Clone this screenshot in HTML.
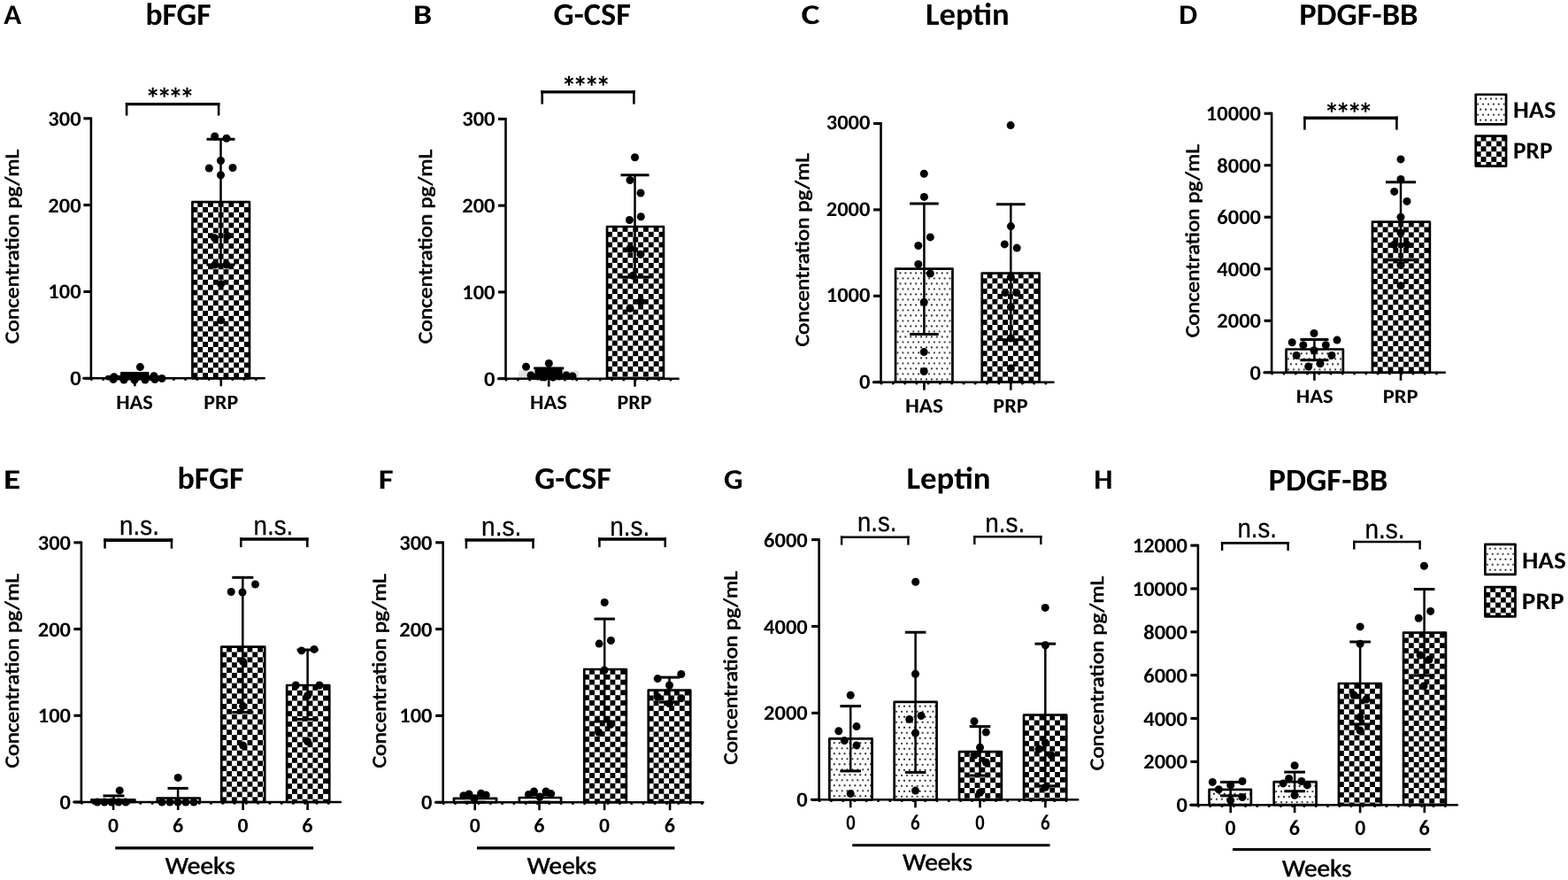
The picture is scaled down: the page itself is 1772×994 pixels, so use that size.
<!DOCTYPE html>
<html><head><meta charset="utf-8"><style>
html,body{margin:0;padding:0;background:#fff;}
svg{display:block;font-family:"Carlito","Liberation Sans",sans-serif;text-rendering:geometricPrecision;}
</style></head><body>
<svg width="1772" height="994" viewBox="0 0 1772 994">
<defs>
<pattern id="p1" patternUnits="userSpaceOnUse" x="217.45" y="228.15" width="11.7" height="11.7"><rect width="11.7" height="11.7" fill="#fff"/><rect x="5.85" y="0" width="5.85" height="5.85" fill="#000"/><rect x="0" y="5.85" width="5.85" height="5.85" fill="#000"/></pattern>
<pattern id="p2" patternUnits="userSpaceOnUse" x="123.30" y="429.75" width="5.9" height="12.0"><circle cx="2.95" cy="0.9" r="1.0" fill="#000"/><circle cx="0" cy="6.9" r="1.0" fill="#000"/><circle cx="5.9" cy="6.9" r="1.0" fill="#000"/></pattern>
<pattern id="p3" patternUnits="userSpaceOnUse" x="686.05" y="255.99" width="11.7" height="11.7"><rect width="11.7" height="11.7" fill="#fff"/><rect x="5.85" y="0" width="5.85" height="5.85" fill="#000"/><rect x="0" y="5.85" width="5.85" height="5.85" fill="#000"/></pattern>
<pattern id="p5" patternUnits="userSpaceOnUse" x="1014.50" y="307.45" width="5.9" height="12.0"><circle cx="2.95" cy="0.9" r="1.0" fill="#000"/><circle cx="0" cy="6.9" r="1.0" fill="#000"/><circle cx="5.9" cy="6.9" r="1.0" fill="#000"/></pattern>
<pattern id="p6" patternUnits="userSpaceOnUse" x="1109.75" y="308.55" width="11.7" height="11.7"><rect width="11.7" height="11.7" fill="#fff"/><rect x="5.85" y="0" width="5.85" height="5.85" fill="#000"/><rect x="0" y="5.85" width="5.85" height="5.85" fill="#000"/></pattern>
<pattern id="p7" patternUnits="userSpaceOnUse" x="1456.00" y="398.39" width="5.9" height="12.0"><circle cx="2.95" cy="0.9" r="1.0" fill="#000"/><circle cx="0" cy="6.9" r="1.0" fill="#000"/><circle cx="5.9" cy="6.9" r="1.0" fill="#000"/></pattern>
<pattern id="p8" patternUnits="userSpaceOnUse" x="1550.95" y="250.69" width="11.7" height="11.7"><rect width="11.7" height="11.7" fill="#fff"/><rect x="5.85" y="0" width="5.85" height="5.85" fill="#000"/><rect x="0" y="5.85" width="5.85" height="5.85" fill="#000"/></pattern>
<pattern id="p10" patternUnits="userSpaceOnUse" x="1670.20" y="110.65" width="5.9" height="12.0"><circle cx="2.95" cy="0.9" r="1.0" fill="#000"/><circle cx="0" cy="6.9" r="1.0" fill="#000"/><circle cx="5.9" cy="6.9" r="1.0" fill="#000"/></pattern>
<pattern id="p12" patternUnits="userSpaceOnUse" x="1667.75" y="153.65" width="11.7" height="11.7"><rect width="11.7" height="11.7" fill="#fff"/><rect x="5.85" y="0" width="5.85" height="5.85" fill="#000"/><rect x="0" y="5.85" width="5.85" height="5.85" fill="#000"/></pattern>
<pattern id="p13" patternUnits="userSpaceOnUse" x="105.90" y="907.19" width="5.9" height="12.0"><circle cx="2.95" cy="0.9" r="1.0" fill="#000"/><circle cx="0" cy="6.9" r="1.0" fill="#000"/><circle cx="5.9" cy="6.9" r="1.0" fill="#000"/></pattern>
<pattern id="p14" patternUnits="userSpaceOnUse" x="180.20" y="905.39" width="5.9" height="12.0"><circle cx="2.95" cy="0.9" r="1.0" fill="#000"/><circle cx="0" cy="6.9" r="1.0" fill="#000"/><circle cx="5.9" cy="6.9" r="1.0" fill="#000"/></pattern>
<pattern id="p15" patternUnits="userSpaceOnUse" x="250.25" y="730.69" width="11.7" height="11.7"><rect width="11.7" height="11.7" fill="#fff"/><rect x="5.85" y="0" width="5.85" height="5.85" fill="#000"/><rect x="0" y="5.85" width="5.85" height="5.85" fill="#000"/></pattern>
<pattern id="p16" patternUnits="userSpaceOnUse" x="324.15" y="773.99" width="11.7" height="11.7"><rect width="11.7" height="11.7" fill="#fff"/><rect x="5.85" y="0" width="5.85" height="5.85" fill="#000"/><rect x="0" y="5.85" width="5.85" height="5.85" fill="#000"/></pattern>
<pattern id="p17" patternUnits="userSpaceOnUse" x="515.40" y="905.79" width="5.9" height="12.0"><circle cx="2.95" cy="0.9" r="1.0" fill="#000"/><circle cx="0" cy="6.9" r="1.0" fill="#000"/><circle cx="5.9" cy="6.9" r="1.0" fill="#000"/></pattern>
<pattern id="p18" patternUnits="userSpaceOnUse" x="589.30" y="904.89" width="5.9" height="12.0"><circle cx="2.95" cy="0.9" r="1.0" fill="#000"/><circle cx="0" cy="6.9" r="1.0" fill="#000"/><circle cx="5.9" cy="6.9" r="1.0" fill="#000"/></pattern>
<pattern id="p19" patternUnits="userSpaceOnUse" x="660.25" y="755.99" width="11.7" height="11.7"><rect width="11.7" height="11.7" fill="#fff"/><rect x="5.85" y="0" width="5.85" height="5.85" fill="#000"/><rect x="0" y="5.85" width="5.85" height="5.85" fill="#000"/></pattern>
<pattern id="p20" patternUnits="userSpaceOnUse" x="732.75" y="779.69" width="11.7" height="11.7"><rect width="11.7" height="11.7" fill="#fff"/><rect x="5.85" y="0" width="5.85" height="5.85" fill="#000"/><rect x="0" y="5.85" width="5.85" height="5.85" fill="#000"/></pattern>
<pattern id="p21" patternUnits="userSpaceOnUse" x="939.80" y="838.29" width="5.9" height="12.0"><circle cx="2.95" cy="0.9" r="1.0" fill="#000"/><circle cx="0" cy="6.9" r="1.0" fill="#000"/><circle cx="5.9" cy="6.9" r="1.0" fill="#000"/></pattern>
<pattern id="p22" patternUnits="userSpaceOnUse" x="1013.10" y="796.79" width="5.9" height="12.0"><circle cx="2.95" cy="0.9" r="1.0" fill="#000"/><circle cx="0" cy="6.9" r="1.0" fill="#000"/><circle cx="5.9" cy="6.9" r="1.0" fill="#000"/></pattern>
<pattern id="p23" patternUnits="userSpaceOnUse" x="1084.05" y="849.09" width="11.7" height="11.7"><rect width="11.7" height="11.7" fill="#fff"/><rect x="5.85" y="0" width="5.85" height="5.85" fill="#000"/><rect x="0" y="5.85" width="5.85" height="5.85" fill="#000"/></pattern>
<pattern id="p24" patternUnits="userSpaceOnUse" x="1157.05" y="807.69" width="11.7" height="11.7"><rect width="11.7" height="11.7" fill="#fff"/><rect x="5.85" y="0" width="5.85" height="5.85" fill="#000"/><rect x="0" y="5.85" width="5.85" height="5.85" fill="#000"/></pattern>
<pattern id="p25" patternUnits="userSpaceOnUse" x="1369.00" y="895.69" width="5.9" height="12.0"><circle cx="2.95" cy="0.9" r="1.0" fill="#000"/><circle cx="0" cy="6.9" r="1.0" fill="#000"/><circle cx="5.9" cy="6.9" r="1.0" fill="#000"/></pattern>
<pattern id="p26" patternUnits="userSpaceOnUse" x="1442.10" y="887.09" width="5.9" height="12.0"><circle cx="2.95" cy="0.9" r="1.0" fill="#000"/><circle cx="0" cy="6.9" r="1.0" fill="#000"/><circle cx="5.9" cy="6.9" r="1.0" fill="#000"/></pattern>
<pattern id="p27" patternUnits="userSpaceOnUse" x="1512.95" y="771.99" width="11.7" height="11.7"><rect width="11.7" height="11.7" fill="#fff"/><rect x="5.85" y="0" width="5.85" height="5.85" fill="#000"/><rect x="0" y="5.85" width="5.85" height="5.85" fill="#000"/></pattern>
<pattern id="p28" patternUnits="userSpaceOnUse" x="1586.05" y="714.59" width="11.7" height="11.7"><rect width="11.7" height="11.7" fill="#fff"/><rect x="5.85" y="0" width="5.85" height="5.85" fill="#000"/><rect x="0" y="5.85" width="5.85" height="5.85" fill="#000"/></pattern>
<pattern id="p30" patternUnits="userSpaceOnUse" x="1680.80" y="618.75" width="5.9" height="12.0"><circle cx="2.95" cy="0.9" r="1.0" fill="#000"/><circle cx="0" cy="6.9" r="1.0" fill="#000"/><circle cx="5.9" cy="6.9" r="1.0" fill="#000"/></pattern>
<pattern id="p32" patternUnits="userSpaceOnUse" x="1678.35" y="663.05" width="11.7" height="11.7"><rect width="11.7" height="11.7" fill="#fff"/><rect x="5.85" y="0" width="5.85" height="5.85" fill="#000"/><rect x="0" y="5.85" width="5.85" height="5.85" fill="#000"/></pattern>
</defs>
<rect width="1772" height="994" fill="#fff"/>
<text x="4.20" y="26.80" font-size="31.8" font-weight="bold" textLength="19.93" lengthAdjust="spacingAndGlyphs">A</text>
<text x="164.47" y="28.00" font-size="35.2" font-weight="bold" textLength="74.10" lengthAdjust="spacingAndGlyphs">bFGF</text>
<text transform="translate(20.90,388.26) rotate(-90)" x="0" y="0" font-size="22.3" font-weight="normal" textLength="219.51" lengthAdjust="spacingAndGlyphs" stroke="#000" stroke-width="0.65" stroke-linejoin="round">Concentration pg/mL</text>
<line x1="102.90" y1="132.40" x2="102.90" y2="427.30" stroke="#000" stroke-width="2.6" stroke-linecap="butt"/>
<line x1="94.40" y1="133.80" x2="102.90" y2="133.80" stroke="#000" stroke-width="3.1" stroke-linecap="butt"/>
<text x="54.35" y="141.80" font-size="23.8" font-weight="bold" textLength="37.26" lengthAdjust="spacingAndGlyphs">300</text>
<line x1="94.40" y1="231.63" x2="102.90" y2="231.63" stroke="#000" stroke-width="3.1" stroke-linecap="butt"/>
<text x="54.35" y="239.63" font-size="23.8" font-weight="bold" textLength="37.26" lengthAdjust="spacingAndGlyphs">200</text>
<line x1="94.40" y1="329.47" x2="102.90" y2="329.47" stroke="#000" stroke-width="3.1" stroke-linecap="butt"/>
<text x="54.35" y="337.47" font-size="23.8" font-weight="bold" textLength="37.26" lengthAdjust="spacingAndGlyphs">100</text>
<line x1="94.40" y1="427.30" x2="102.90" y2="427.30" stroke="#000" stroke-width="3.1" stroke-linecap="butt"/>
<text x="79.22" y="435.30" font-size="23.8" font-weight="bold" textLength="12.42" lengthAdjust="spacingAndGlyphs">0</text>
<rect x="217.45" y="228.15" width="64.50" height="199.15" fill="url(#p1)" stroke="#000" stroke-width="2.7" stroke-linejoin="round"/>
<rect x="120.85" y="425.85" width="63.30" height="1.45" fill="url(#p2)" stroke="#000" stroke-width="2.7" stroke-linejoin="round"/>
<line x1="249.50" y1="157.20" x2="249.50" y2="299.00" stroke="#000" stroke-width="2.5" stroke-linecap="butt"/>
<line x1="233.50" y1="157.20" x2="265.50" y2="157.20" stroke="#000" stroke-width="3.0" stroke-linecap="butt"/>
<line x1="233.50" y1="299.00" x2="265.50" y2="299.00" stroke="#000" stroke-width="3.0" stroke-linecap="butt"/>
<line x1="152.30" y1="421.40" x2="152.30" y2="427.30" stroke="#000" stroke-width="2.5" stroke-linecap="butt"/>
<line x1="136.30" y1="421.40" x2="168.30" y2="421.40" stroke="#000" stroke-width="3.0" stroke-linecap="butt"/>
<line x1="136.30" y1="427.30" x2="168.30" y2="427.30" stroke="#000" stroke-width="3.0" stroke-linecap="butt"/>
<circle cx="242.7" cy="154.0" r="4.5"/>
<circle cx="256.0" cy="156.3" r="4.5"/>
<circle cx="249.5" cy="181.5" r="4.5"/>
<circle cx="236.3" cy="190.0" r="4.5"/>
<circle cx="263.0" cy="189.5" r="4.5"/>
<circle cx="249.5" cy="197.8" r="4.5"/>
<circle cx="242.5" cy="268.8" r="4.5"/>
<circle cx="257.0" cy="266.4" r="4.5"/>
<circle cx="249.7" cy="320.7" r="4.5"/>
<circle cx="249.7" cy="361.8" r="4.5"/>
<circle cx="243.0" cy="299.0" r="4.5"/>
<circle cx="256.0" cy="299.0" r="4.5"/>
<circle cx="158.4" cy="414.6" r="4.5"/>
<circle cx="128.9" cy="425.8" r="4.5"/>
<circle cx="174.0" cy="424.7" r="4.5"/>
<circle cx="183.0" cy="427.5" r="4.5"/>
<circle cx="128.0" cy="428.5" r="4.5"/>
<circle cx="140.0" cy="429.0" r="4.5"/>
<circle cx="152.0" cy="429.3" r="4.5"/>
<circle cx="164.0" cy="429.0" r="4.5"/>
<circle cx="175.0" cy="428.5" r="4.5"/>
<rect x="136.0" y="420.2" width="32.40" height="8.30" rx="2"/>
<rect x="119.3" y="423.9" width="65.90" height="5.60" rx="2"/>
<line x1="94.40" y1="427.30" x2="298.60" y2="427.30" stroke="#000" stroke-width="2.6" stroke-linecap="round"/>
<circle cx="103.4" cy="428.5" r="1.5"/>
<circle cx="116.7" cy="428.5" r="1.5"/>
<circle cx="130.0" cy="428.5" r="1.5"/>
<circle cx="143.2" cy="428.5" r="1.5"/>
<circle cx="156.5" cy="428.5" r="1.5"/>
<circle cx="169.8" cy="428.5" r="1.5"/>
<circle cx="183.1" cy="428.5" r="1.5"/>
<circle cx="196.4" cy="428.5" r="1.5"/>
<circle cx="209.6" cy="428.5" r="1.5"/>
<circle cx="222.9" cy="428.5" r="1.5"/>
<circle cx="236.2" cy="428.5" r="1.5"/>
<circle cx="249.5" cy="428.5" r="1.5"/>
<circle cx="262.8" cy="428.5" r="1.5"/>
<circle cx="276.0" cy="428.5" r="1.5"/>
<circle cx="289.3" cy="428.5" r="1.5"/>
<line x1="152.40" y1="427.30" x2="152.40" y2="436.30" stroke="#000" stroke-width="2.6" stroke-linecap="butt"/>
<line x1="249.80" y1="427.30" x2="249.80" y2="436.30" stroke="#000" stroke-width="2.6" stroke-linecap="butt"/>
<text x="131.16" y="461.90" font-size="23.2" font-weight="bold" textLength="41.76" lengthAdjust="spacingAndGlyphs">HAS</text>
<text x="230.18" y="461.90" font-size="23.2" font-weight="bold" textLength="38.98" lengthAdjust="spacingAndGlyphs">PRP</text>
<line x1="143.10" y1="115.95" x2="143.10" y2="130.60" stroke="#000" stroke-width="2.6" stroke-linecap="butt"/>
<line x1="247.10" y1="115.95" x2="247.10" y2="130.60" stroke="#000" stroke-width="2.6" stroke-linecap="butt"/>
<line x1="141.80" y1="117.60" x2="248.40" y2="117.60" stroke="#000" stroke-width="3.3" stroke-linecap="butt"/>
<text x="172.80" y="123.16" font-size="34" font-weight="bold" text-anchor="middle">*</text>
<text x="185.70" y="123.16" font-size="34" font-weight="bold" text-anchor="middle">*</text>
<text x="198.50" y="123.16" font-size="34" font-weight="bold" text-anchor="middle">*</text>
<text x="211.50" y="123.16" font-size="34" font-weight="bold" text-anchor="middle">*</text>
<text x="466.94" y="26.90" font-size="31.8" font-weight="bold" textLength="21.11" lengthAdjust="spacingAndGlyphs">B</text>
<text x="625.59" y="28.20" font-size="35.41" font-weight="bold" textLength="87.29" lengthAdjust="spacingAndGlyphs">G-CSF</text>
<text transform="translate(488.10,388.26) rotate(-90)" x="0" y="0" font-size="22.3" font-weight="normal" textLength="219.51" lengthAdjust="spacingAndGlyphs" stroke="#000" stroke-width="0.65" stroke-linejoin="round">Concentration pg/mL</text>
<line x1="571.50" y1="133.00" x2="571.50" y2="427.70" stroke="#000" stroke-width="2.6" stroke-linecap="butt"/>
<line x1="563.00" y1="134.40" x2="571.50" y2="134.40" stroke="#000" stroke-width="3.1" stroke-linecap="butt"/>
<text x="522.25" y="142.40" font-size="23.8" font-weight="bold" textLength="37.26" lengthAdjust="spacingAndGlyphs">300</text>
<line x1="563.00" y1="232.17" x2="571.50" y2="232.17" stroke="#000" stroke-width="3.1" stroke-linecap="butt"/>
<text x="522.25" y="240.17" font-size="23.8" font-weight="bold" textLength="37.26" lengthAdjust="spacingAndGlyphs">200</text>
<line x1="563.00" y1="329.93" x2="571.50" y2="329.93" stroke="#000" stroke-width="3.1" stroke-linecap="butt"/>
<text x="522.25" y="337.93" font-size="23.8" font-weight="bold" textLength="37.26" lengthAdjust="spacingAndGlyphs">100</text>
<line x1="563.00" y1="427.70" x2="571.50" y2="427.70" stroke="#000" stroke-width="3.1" stroke-linecap="butt"/>
<text x="547.12" y="435.70" font-size="23.8" font-weight="bold" textLength="12.42" lengthAdjust="spacingAndGlyphs">0</text>
<rect x="686.05" y="255.99" width="63.90" height="171.71" fill="url(#p3)" stroke="#000" stroke-width="2.7" stroke-linejoin="round"/>
<rect x="586.00" y="418.54" width="68.00" height="9.16" rx="3" fill="#e2e2e2"/>
<line x1="717.50" y1="197.70" x2="717.50" y2="313.00" stroke="#000" stroke-width="2.5" stroke-linecap="butt"/>
<line x1="701.50" y1="197.70" x2="733.50" y2="197.70" stroke="#000" stroke-width="3.0" stroke-linecap="butt"/>
<line x1="701.50" y1="313.00" x2="733.50" y2="313.00" stroke="#000" stroke-width="3.0" stroke-linecap="butt"/>
<line x1="620.20" y1="416.00" x2="620.20" y2="427.20" stroke="#000" stroke-width="2.5" stroke-linecap="butt"/>
<line x1="603.20" y1="416.00" x2="637.20" y2="416.00" stroke="#000" stroke-width="3.0" stroke-linecap="butt"/>
<line x1="603.20" y1="427.20" x2="637.20" y2="427.20" stroke="#000" stroke-width="3.0" stroke-linecap="butt"/>
<circle cx="717.5" cy="177.7" r="4.5"/>
<circle cx="712.0" cy="203.5" r="4.5"/>
<circle cx="724.0" cy="218.0" r="4.5"/>
<circle cx="711.4" cy="248.5" r="4.5"/>
<circle cx="724.3" cy="244.7" r="4.5"/>
<circle cx="712.0" cy="280.7" r="4.5"/>
<circle cx="724.0" cy="287.2" r="4.5"/>
<circle cx="712.0" cy="348.3" r="4.5"/>
<circle cx="724.0" cy="340.3" r="4.5"/>
<circle cx="715.3" cy="311.3" r="4.5"/>
<circle cx="594.5" cy="414.3" r="4.5"/>
<circle cx="620.3" cy="410.5" r="4.5"/>
<circle cx="600.0" cy="424.0" r="4.5"/>
<circle cx="608.0" cy="425.0" r="4.5"/>
<circle cx="615.0" cy="426.0" r="4.5"/>
<circle cx="625.0" cy="426.0" r="4.5"/>
<circle cx="632.0" cy="425.0" r="4.5"/>
<circle cx="640.0" cy="424.0" r="4.5"/>
<circle cx="647.0" cy="425.0" r="4.5"/>
<rect x="604.5" y="416.5" width="31.00" height="11.00" rx="2"/>
<line x1="563.00" y1="427.70" x2="766.60" y2="427.70" stroke="#000" stroke-width="2.6" stroke-linecap="round"/>
<circle cx="572.0" cy="428.9" r="1.5"/>
<circle cx="585.3" cy="428.9" r="1.5"/>
<circle cx="598.6" cy="428.9" r="1.5"/>
<circle cx="611.8" cy="428.9" r="1.5"/>
<circle cx="625.1" cy="428.9" r="1.5"/>
<circle cx="638.4" cy="428.9" r="1.5"/>
<circle cx="651.7" cy="428.9" r="1.5"/>
<circle cx="665.0" cy="428.9" r="1.5"/>
<circle cx="678.2" cy="428.9" r="1.5"/>
<circle cx="691.5" cy="428.9" r="1.5"/>
<circle cx="704.8" cy="428.9" r="1.5"/>
<circle cx="718.1" cy="428.9" r="1.5"/>
<circle cx="731.4" cy="428.9" r="1.5"/>
<circle cx="744.6" cy="428.9" r="1.5"/>
<circle cx="757.9" cy="428.9" r="1.5"/>
<line x1="620.20" y1="427.70" x2="620.20" y2="436.70" stroke="#000" stroke-width="2.6" stroke-linecap="butt"/>
<line x1="717.50" y1="427.70" x2="717.50" y2="436.70" stroke="#000" stroke-width="2.6" stroke-linecap="butt"/>
<text x="599.01" y="461.90" font-size="23.2" font-weight="bold" textLength="41.76" lengthAdjust="spacingAndGlyphs">HAS</text>
<text x="697.58" y="461.90" font-size="23.2" font-weight="bold" textLength="38.98" lengthAdjust="spacingAndGlyphs">PRP</text>
<line x1="612.70" y1="102.25" x2="612.70" y2="117.60" stroke="#000" stroke-width="2.6" stroke-linecap="butt"/>
<line x1="716.40" y1="102.25" x2="716.40" y2="117.60" stroke="#000" stroke-width="2.6" stroke-linecap="butt"/>
<line x1="611.40" y1="103.90" x2="717.70" y2="103.90" stroke="#000" stroke-width="3.3" stroke-linecap="butt"/>
<text x="642.90" y="109.95" font-size="34" font-weight="bold" text-anchor="middle">*</text>
<text x="655.80" y="109.95" font-size="34" font-weight="bold" text-anchor="middle">*</text>
<text x="668.60" y="109.95" font-size="34" font-weight="bold" text-anchor="middle">*</text>
<text x="681.80" y="109.95" font-size="34" font-weight="bold" text-anchor="middle">*</text>
<text x="905.51" y="27.40" font-size="31.8" font-weight="bold" textLength="20.96" lengthAdjust="spacingAndGlyphs">C</text>
<text x="1045.97" y="28.20" font-size="35.6" font-weight="bold" textLength="94.61" lengthAdjust="spacingAndGlyphs">Leptin</text>
<text transform="translate(913.60,391.46) rotate(-90)" x="0" y="0" font-size="22.3" font-weight="normal" textLength="218.40" lengthAdjust="spacingAndGlyphs" stroke="#000" stroke-width="0.65" stroke-linejoin="round">Concentration pg/mL</text>
<line x1="995.50" y1="138.10" x2="995.50" y2="431.70" stroke="#000" stroke-width="2.6" stroke-linecap="butt"/>
<line x1="987.00" y1="139.50" x2="995.50" y2="139.50" stroke="#000" stroke-width="3.1" stroke-linecap="butt"/>
<text x="933.78" y="146.40" font-size="23.8" font-weight="bold" textLength="49.67" lengthAdjust="spacingAndGlyphs">3000</text>
<line x1="987.00" y1="236.90" x2="995.50" y2="236.90" stroke="#000" stroke-width="3.1" stroke-linecap="butt"/>
<text x="933.78" y="243.80" font-size="23.8" font-weight="bold" textLength="49.67" lengthAdjust="spacingAndGlyphs">2000</text>
<line x1="987.00" y1="334.30" x2="995.50" y2="334.30" stroke="#000" stroke-width="3.1" stroke-linecap="butt"/>
<text x="933.78" y="341.20" font-size="23.8" font-weight="bold" textLength="49.67" lengthAdjust="spacingAndGlyphs">1000</text>
<line x1="987.00" y1="431.70" x2="995.50" y2="431.70" stroke="#000" stroke-width="3.1" stroke-linecap="butt"/>
<text x="971.02" y="438.60" font-size="23.8" font-weight="bold" textLength="12.42" lengthAdjust="spacingAndGlyphs">0</text>
<rect x="1012.05" y="303.55" width="64.40" height="128.15" fill="url(#p5)" stroke="#000" stroke-width="2.7" stroke-linejoin="round"/>
<rect x="1109.75" y="308.55" width="64.80" height="123.15" fill="url(#p6)" stroke="#000" stroke-width="2.7" stroke-linejoin="round"/>
<line x1="1044.40" y1="230.00" x2="1044.40" y2="377.60" stroke="#000" stroke-width="2.5" stroke-linecap="butt"/>
<line x1="1028.10" y1="230.00" x2="1060.70" y2="230.00" stroke="#000" stroke-width="3.0" stroke-linecap="butt"/>
<line x1="1028.10" y1="377.60" x2="1060.70" y2="377.60" stroke="#000" stroke-width="3.0" stroke-linecap="butt"/>
<line x1="1142.30" y1="230.80" x2="1142.30" y2="383.80" stroke="#000" stroke-width="2.5" stroke-linecap="butt"/>
<line x1="1126.00" y1="230.80" x2="1158.60" y2="230.80" stroke="#000" stroke-width="3.0" stroke-linecap="butt"/>
<line x1="1126.00" y1="383.80" x2="1158.60" y2="383.80" stroke="#000" stroke-width="3.0" stroke-linecap="butt"/>
<circle cx="1044.3" cy="196.2" r="4.5"/>
<circle cx="1044.4" cy="222.4" r="4.5"/>
<circle cx="1051.3" cy="267.9" r="4.5"/>
<circle cx="1037.8" cy="277.5" r="4.5"/>
<circle cx="1037.8" cy="298.4" r="4.5"/>
<circle cx="1051.3" cy="309.0" r="4.5"/>
<circle cx="1044.2" cy="341.3" r="4.5"/>
<circle cx="1044.2" cy="397.6" r="4.5"/>
<circle cx="1044.2" cy="419.5" r="4.5"/>
<circle cx="1142.1" cy="141.6" r="4.5"/>
<circle cx="1142.4" cy="255.6" r="4.5"/>
<circle cx="1135.3" cy="275.9" r="4.5"/>
<circle cx="1149.2" cy="280.1" r="4.5"/>
<circle cx="1142.4" cy="313.0" r="4.5"/>
<circle cx="1136.0" cy="330.6" r="4.5"/>
<circle cx="1148.8" cy="330.6" r="4.5"/>
<circle cx="1142.4" cy="346.7" r="4.5"/>
<circle cx="1142.4" cy="382.0" r="4.5"/>
<circle cx="1142.4" cy="416.0" r="4.5"/>
<line x1="987.00" y1="431.70" x2="1190.50" y2="431.70" stroke="#000" stroke-width="2.6" stroke-linecap="round"/>
<circle cx="996.0" cy="432.9" r="1.5"/>
<circle cx="1009.3" cy="432.9" r="1.5"/>
<circle cx="1022.6" cy="432.9" r="1.5"/>
<circle cx="1035.8" cy="432.9" r="1.5"/>
<circle cx="1049.1" cy="432.9" r="1.5"/>
<circle cx="1062.4" cy="432.9" r="1.5"/>
<circle cx="1075.7" cy="432.9" r="1.5"/>
<circle cx="1089.0" cy="432.9" r="1.5"/>
<circle cx="1102.2" cy="432.9" r="1.5"/>
<circle cx="1115.5" cy="432.9" r="1.5"/>
<circle cx="1128.8" cy="432.9" r="1.5"/>
<circle cx="1142.1" cy="432.9" r="1.5"/>
<circle cx="1155.4" cy="432.9" r="1.5"/>
<circle cx="1168.6" cy="432.9" r="1.5"/>
<circle cx="1181.9" cy="432.9" r="1.5"/>
<line x1="1044.40" y1="431.70" x2="1044.40" y2="440.70" stroke="#000" stroke-width="2.6" stroke-linecap="butt"/>
<line x1="1142.30" y1="431.70" x2="1142.30" y2="440.70" stroke="#000" stroke-width="2.6" stroke-linecap="butt"/>
<text x="1023.02" y="466.40" font-size="23.2" font-weight="bold" textLength="42.92" lengthAdjust="spacingAndGlyphs">HAS</text>
<text x="1122.37" y="466.40" font-size="23.2" font-weight="bold" textLength="39.40" lengthAdjust="spacingAndGlyphs">PRP</text>
<text x="1332.28" y="26.90" font-size="31.8" font-weight="bold" textLength="20.90" lengthAdjust="spacingAndGlyphs">D</text>
<text x="1468.20" y="27.90" font-size="35.2" font-weight="bold" textLength="134.34" lengthAdjust="spacingAndGlyphs">PDGF-BB</text>
<text transform="translate(1354.70,381.16) rotate(-90)" x="0" y="0" font-size="22.3" font-weight="normal" textLength="218.10" lengthAdjust="spacingAndGlyphs" stroke="#000" stroke-width="0.65" stroke-linejoin="round">Concentration pg/mL</text>
<line x1="1437.10" y1="126.80" x2="1437.10" y2="420.80" stroke="#000" stroke-width="2.6" stroke-linecap="butt"/>
<line x1="1428.60" y1="128.20" x2="1437.10" y2="128.20" stroke="#000" stroke-width="3.1" stroke-linecap="butt"/>
<text x="1362.88" y="136.20" font-size="23.8" font-weight="bold" textLength="62.09" lengthAdjust="spacingAndGlyphs">10000</text>
<line x1="1428.60" y1="186.72" x2="1437.10" y2="186.72" stroke="#000" stroke-width="3.1" stroke-linecap="butt"/>
<text x="1375.38" y="194.72" font-size="23.8" font-weight="bold" textLength="49.67" lengthAdjust="spacingAndGlyphs">8000</text>
<line x1="1428.60" y1="245.24" x2="1437.10" y2="245.24" stroke="#000" stroke-width="3.1" stroke-linecap="butt"/>
<text x="1375.38" y="253.24" font-size="23.8" font-weight="bold" textLength="49.67" lengthAdjust="spacingAndGlyphs">6000</text>
<line x1="1428.60" y1="303.76" x2="1437.10" y2="303.76" stroke="#000" stroke-width="3.1" stroke-linecap="butt"/>
<text x="1375.38" y="311.76" font-size="23.8" font-weight="bold" textLength="49.67" lengthAdjust="spacingAndGlyphs">4000</text>
<line x1="1428.60" y1="362.28" x2="1437.10" y2="362.28" stroke="#000" stroke-width="3.1" stroke-linecap="butt"/>
<text x="1375.38" y="370.28" font-size="23.8" font-weight="bold" textLength="49.67" lengthAdjust="spacingAndGlyphs">2000</text>
<line x1="1428.60" y1="420.80" x2="1437.10" y2="420.80" stroke="#000" stroke-width="3.1" stroke-linecap="butt"/>
<text x="1412.62" y="428.80" font-size="23.8" font-weight="bold" textLength="12.42" lengthAdjust="spacingAndGlyphs">0</text>
<rect x="1453.55" y="394.49" width="64.30" height="26.31" fill="url(#p7)" stroke="#000" stroke-width="2.7" stroke-linejoin="round"/>
<rect x="1550.95" y="250.69" width="64.90" height="170.11" fill="url(#p8)" stroke="#000" stroke-width="2.7" stroke-linejoin="round"/>
<line x1="1485.40" y1="383.50" x2="1485.40" y2="406.70" stroke="#000" stroke-width="2.5" stroke-linecap="butt"/>
<line x1="1469.40" y1="383.50" x2="1501.40" y2="383.50" stroke="#000" stroke-width="3.0" stroke-linecap="butt"/>
<line x1="1469.40" y1="406.70" x2="1501.40" y2="406.70" stroke="#000" stroke-width="3.0" stroke-linecap="butt"/>
<line x1="1583.00" y1="205.80" x2="1583.00" y2="293.80" stroke="#000" stroke-width="2.5" stroke-linecap="butt"/>
<line x1="1566.00" y1="205.80" x2="1600.00" y2="205.80" stroke="#000" stroke-width="3.0" stroke-linecap="butt"/>
<line x1="1566.00" y1="293.80" x2="1600.00" y2="293.80" stroke="#000" stroke-width="3.0" stroke-linecap="butt"/>
<circle cx="1485.0" cy="376.5" r="4.5"/>
<circle cx="1460.2" cy="386.8" r="4.5"/>
<circle cx="1511.0" cy="384.1" r="4.5"/>
<circle cx="1472.8" cy="389.8" r="4.5"/>
<circle cx="1498.3" cy="389.8" r="4.5"/>
<circle cx="1485.0" cy="395.8" r="4.5"/>
<circle cx="1465.1" cy="401.4" r="4.5"/>
<circle cx="1505.0" cy="401.4" r="4.5"/>
<circle cx="1478.7" cy="414.0" r="4.5"/>
<circle cx="1492.0" cy="410.7" r="4.5"/>
<circle cx="1583.0" cy="179.9" r="4.5"/>
<circle cx="1583.0" cy="202.5" r="4.5"/>
<circle cx="1575.7" cy="216.4" r="4.5"/>
<circle cx="1590.0" cy="227.4" r="4.5"/>
<circle cx="1583.0" cy="245.3" r="4.5"/>
<circle cx="1583.0" cy="262.9" r="4.5"/>
<circle cx="1575.7" cy="276.2" r="4.5"/>
<circle cx="1590.0" cy="276.2" r="4.5"/>
<circle cx="1583.0" cy="299.5" r="4.5"/>
<circle cx="1583.0" cy="322.7" r="4.5"/>
<line x1="1428.60" y1="420.80" x2="1632.70" y2="420.80" stroke="#000" stroke-width="2.6" stroke-linecap="round"/>
<circle cx="1437.6" cy="422.0" r="1.5"/>
<circle cx="1450.9" cy="422.0" r="1.5"/>
<circle cx="1464.2" cy="422.0" r="1.5"/>
<circle cx="1477.4" cy="422.0" r="1.5"/>
<circle cx="1490.7" cy="422.0" r="1.5"/>
<circle cx="1504.0" cy="422.0" r="1.5"/>
<circle cx="1517.3" cy="422.0" r="1.5"/>
<circle cx="1530.6" cy="422.0" r="1.5"/>
<circle cx="1543.8" cy="422.0" r="1.5"/>
<circle cx="1557.1" cy="422.0" r="1.5"/>
<circle cx="1570.4" cy="422.0" r="1.5"/>
<circle cx="1583.7" cy="422.0" r="1.5"/>
<circle cx="1597.0" cy="422.0" r="1.5"/>
<circle cx="1610.2" cy="422.0" r="1.5"/>
<circle cx="1623.5" cy="422.0" r="1.5"/>
<line x1="1485.40" y1="420.80" x2="1485.40" y2="429.80" stroke="#000" stroke-width="2.6" stroke-linecap="butt"/>
<line x1="1583.00" y1="420.80" x2="1583.00" y2="429.80" stroke="#000" stroke-width="2.6" stroke-linecap="butt"/>
<text x="1464.75" y="455.00" font-size="22.2" font-weight="bold" textLength="41.97" lengthAdjust="spacingAndGlyphs">HAS</text>
<text x="1562.75" y="455.00" font-size="22.2" font-weight="bold" textLength="39.92" lengthAdjust="spacingAndGlyphs">PRP</text>
<line x1="1474.40" y1="131.60" x2="1474.40" y2="146.60" stroke="#000" stroke-width="2.6" stroke-linecap="butt"/>
<line x1="1578.40" y1="131.60" x2="1578.40" y2="146.60" stroke="#000" stroke-width="2.6" stroke-linecap="butt"/>
<line x1="1473.10" y1="133.25" x2="1579.70" y2="133.25" stroke="#000" stroke-width="3.3" stroke-linecap="butt"/>
<text x="1504.90" y="139.66" font-size="34" font-weight="bold" text-anchor="middle">*</text>
<text x="1517.80" y="139.66" font-size="34" font-weight="bold" text-anchor="middle">*</text>
<text x="1530.60" y="139.66" font-size="34" font-weight="bold" text-anchor="middle">*</text>
<text x="1543.20" y="139.66" font-size="34" font-weight="bold" text-anchor="middle">*</text>
<rect x="1667.75" y="106.75" width="34.30" height="33.60" fill="url(#p10)" stroke="#000" stroke-width="2.7" stroke-linejoin="round"/>
<text x="1710.05" y="133.20" font-size="27" font-weight="bold" textLength="48.29" lengthAdjust="spacingAndGlyphs">HAS</text>
<rect x="1667.75" y="153.65" width="34.30" height="33.90" fill="url(#p12)" stroke="#000" stroke-width="2.7" stroke-linejoin="round"/>
<text x="1710.10" y="179.30" font-size="27" font-weight="bold" textLength="44.35" lengthAdjust="spacingAndGlyphs">PRP</text>
<text x="4.04" y="552.20" font-size="31.8" font-weight="bold" textLength="19.15" lengthAdjust="spacingAndGlyphs">E</text>
<text x="200.44" y="551.70" font-size="35.2" font-weight="bold" textLength="75.14" lengthAdjust="spacingAndGlyphs">bFGF</text>
<text transform="translate(20.90,867.46) rotate(-90)" x="0" y="0" font-size="22.3" font-weight="normal" textLength="219.41" lengthAdjust="spacingAndGlyphs" stroke="#000" stroke-width="0.65" stroke-linejoin="round">Concentration pg/mL</text>
<line x1="91.90" y1="611.45" x2="91.90" y2="906.00" stroke="#000" stroke-width="2.6" stroke-linecap="butt"/>
<line x1="83.40" y1="612.85" x2="91.90" y2="612.85" stroke="#000" stroke-width="3.1" stroke-linecap="butt"/>
<text x="42.75" y="620.85" font-size="23.8" font-weight="bold" textLength="37.26" lengthAdjust="spacingAndGlyphs">300</text>
<line x1="83.40" y1="710.57" x2="91.90" y2="710.57" stroke="#000" stroke-width="3.1" stroke-linecap="butt"/>
<text x="42.75" y="718.57" font-size="23.8" font-weight="bold" textLength="37.26" lengthAdjust="spacingAndGlyphs">200</text>
<line x1="83.40" y1="808.28" x2="91.90" y2="808.28" stroke="#000" stroke-width="3.1" stroke-linecap="butt"/>
<text x="42.75" y="816.28" font-size="23.8" font-weight="bold" textLength="37.26" lengthAdjust="spacingAndGlyphs">100</text>
<line x1="83.40" y1="906.00" x2="91.90" y2="906.00" stroke="#000" stroke-width="3.1" stroke-linecap="butt"/>
<text x="67.62" y="914.00" font-size="23.8" font-weight="bold" textLength="12.42" lengthAdjust="spacingAndGlyphs">0</text>
<rect x="103.45" y="903.29" width="48.90" height="2.71" fill="url(#p13)" stroke="#000" stroke-width="2.7" stroke-linejoin="round"/>
<rect x="177.75" y="901.49" width="48.10" height="4.51" fill="url(#p14)" stroke="#000" stroke-width="2.7" stroke-linejoin="round"/>
<rect x="250.25" y="730.69" width="49.00" height="175.31" fill="url(#p15)" stroke="#000" stroke-width="2.7" stroke-linejoin="round"/>
<rect x="324.15" y="773.99" width="48.10" height="132.01" fill="url(#p16)" stroke="#000" stroke-width="2.7" stroke-linejoin="round"/>
<line x1="128.50" y1="898.90" x2="128.50" y2="906.20" stroke="#000" stroke-width="2.5" stroke-linecap="butt"/>
<line x1="116.50" y1="898.90" x2="140.50" y2="898.90" stroke="#000" stroke-width="3.0" stroke-linecap="butt"/>
<line x1="116.50" y1="906.20" x2="140.50" y2="906.20" stroke="#000" stroke-width="3.0" stroke-linecap="butt"/>
<line x1="201.10" y1="890.40" x2="201.10" y2="906.20" stroke="#000" stroke-width="2.5" stroke-linecap="butt"/>
<line x1="189.50" y1="890.40" x2="212.70" y2="890.40" stroke="#000" stroke-width="3.0" stroke-linecap="butt"/>
<line x1="189.50" y1="906.20" x2="212.70" y2="906.20" stroke="#000" stroke-width="3.0" stroke-linecap="butt"/>
<line x1="274.30" y1="652.30" x2="274.30" y2="804.50" stroke="#000" stroke-width="2.5" stroke-linecap="butt"/>
<line x1="262.30" y1="652.30" x2="286.30" y2="652.30" stroke="#000" stroke-width="3.0" stroke-linecap="butt"/>
<line x1="262.30" y1="804.50" x2="286.30" y2="804.50" stroke="#000" stroke-width="3.0" stroke-linecap="butt"/>
<line x1="347.60" y1="734.00" x2="347.60" y2="812.50" stroke="#000" stroke-width="2.5" stroke-linecap="butt"/>
<line x1="335.60" y1="734.00" x2="359.60" y2="734.00" stroke="#000" stroke-width="3.0" stroke-linecap="butt"/>
<line x1="335.60" y1="812.50" x2="359.60" y2="812.50" stroke="#000" stroke-width="3.0" stroke-linecap="butt"/>
<circle cx="135.2" cy="892.9" r="4.5"/>
<circle cx="110.0" cy="906.0" r="4.5"/>
<circle cx="118.0" cy="906.0" r="4.5"/>
<circle cx="126.0" cy="906.0" r="4.5"/>
<circle cx="134.0" cy="906.0" r="4.5"/>
<circle cx="142.0" cy="906.0" r="4.5"/>
<circle cx="201.2" cy="878.4" r="4.5"/>
<circle cx="183.0" cy="906.0" r="4.5"/>
<circle cx="192.0" cy="906.0" r="4.5"/>
<circle cx="201.0" cy="906.0" r="4.5"/>
<circle cx="210.0" cy="906.0" r="4.5"/>
<circle cx="219.0" cy="906.0" r="4.5"/>
<circle cx="261.2" cy="668.5" r="4.5"/>
<circle cx="274.0" cy="669.0" r="4.5"/>
<circle cx="288.5" cy="660.0" r="4.5"/>
<circle cx="274.6" cy="747.3" r="4.5"/>
<circle cx="274.6" cy="797.6" r="4.5"/>
<circle cx="274.6" cy="842.0" r="4.5"/>
<circle cx="340.8" cy="734.9" r="4.5"/>
<circle cx="355.0" cy="733.4" r="4.5"/>
<circle cx="334.3" cy="774.0" r="4.5"/>
<circle cx="361.0" cy="774.0" r="4.5"/>
<circle cx="347.6" cy="785.8" r="4.5"/>
<circle cx="347.6" cy="837.6" r="4.5"/>
<line x1="83.40" y1="906.00" x2="384.90" y2="906.00" stroke="#000" stroke-width="2.6" stroke-linecap="round"/>
<circle cx="92.4" cy="907.2" r="1.5"/>
<circle cx="105.7" cy="907.2" r="1.5"/>
<circle cx="119.0" cy="907.2" r="1.5"/>
<circle cx="132.2" cy="907.2" r="1.5"/>
<circle cx="145.5" cy="907.2" r="1.5"/>
<circle cx="158.8" cy="907.2" r="1.5"/>
<circle cx="172.1" cy="907.2" r="1.5"/>
<circle cx="185.4" cy="907.2" r="1.5"/>
<circle cx="198.6" cy="907.2" r="1.5"/>
<circle cx="211.9" cy="907.2" r="1.5"/>
<circle cx="225.2" cy="907.2" r="1.5"/>
<circle cx="238.5" cy="907.2" r="1.5"/>
<circle cx="251.8" cy="907.2" r="1.5"/>
<circle cx="265.0" cy="907.2" r="1.5"/>
<circle cx="278.3" cy="907.2" r="1.5"/>
<circle cx="291.6" cy="907.2" r="1.5"/>
<circle cx="304.9" cy="907.2" r="1.5"/>
<circle cx="318.2" cy="907.2" r="1.5"/>
<circle cx="331.4" cy="907.2" r="1.5"/>
<circle cx="344.7" cy="907.2" r="1.5"/>
<circle cx="358.0" cy="907.2" r="1.5"/>
<circle cx="371.3" cy="907.2" r="1.5"/>
<line x1="128.10" y1="906.00" x2="128.10" y2="915.00" stroke="#000" stroke-width="2.6" stroke-linecap="butt"/>
<line x1="201.20" y1="906.00" x2="201.20" y2="915.00" stroke="#000" stroke-width="2.6" stroke-linecap="butt"/>
<line x1="274.60" y1="906.00" x2="274.60" y2="915.00" stroke="#000" stroke-width="2.6" stroke-linecap="butt"/>
<line x1="347.60" y1="906.00" x2="347.60" y2="915.00" stroke="#000" stroke-width="2.6" stroke-linecap="butt"/>
<text x="122.13" y="940.30" font-size="23.3" font-weight="bold" textLength="11.99" lengthAdjust="spacingAndGlyphs">0</text>
<text x="194.97" y="940.30" font-size="23.3" font-weight="bold" textLength="12.25" lengthAdjust="spacingAndGlyphs">6</text>
<text x="268.63" y="940.30" font-size="23.3" font-weight="bold" textLength="11.99" lengthAdjust="spacingAndGlyphs">0</text>
<text x="341.37" y="940.30" font-size="23.3" font-weight="bold" textLength="12.25" lengthAdjust="spacingAndGlyphs">6</text>
<line x1="118.55" y1="608.30" x2="118.55" y2="619.60" stroke="#000" stroke-width="2.5" stroke-linecap="butt"/>
<line x1="193.95" y1="608.30" x2="193.95" y2="619.60" stroke="#000" stroke-width="2.5" stroke-linecap="butt"/>
<line x1="117.30" y1="610.10" x2="195.20" y2="610.10" stroke="#000" stroke-width="3.6" stroke-linecap="butt"/>
<line x1="272.30" y1="607.35" x2="272.30" y2="618.10" stroke="#000" stroke-width="2.5" stroke-linecap="butt"/>
<line x1="347.30" y1="607.35" x2="347.30" y2="618.10" stroke="#000" stroke-width="2.5" stroke-linecap="butt"/>
<line x1="271.05" y1="609.05" x2="348.55" y2="609.05" stroke="#000" stroke-width="3.4" stroke-linecap="butt"/>
<text x="135.10" y="604.40" font-size="30.4" font-weight="normal" textLength="44.75" lengthAdjust="spacingAndGlyphs" font-family="Liberation Sans, Arial, sans-serif" stroke="#000" stroke-width="0.3">n.s.</text>
<text x="286.60" y="604.40" font-size="30.4" font-weight="normal" textLength="44.64" lengthAdjust="spacingAndGlyphs" font-family="Liberation Sans, Arial, sans-serif" stroke="#000" stroke-width="0.3">n.s.</text>
<line x1="130.20" y1="957.90" x2="354.10" y2="957.90" stroke="#000" stroke-width="3.3" stroke-linecap="butt"/>
<text x="186.75" y="987.00" font-size="27.6" font-weight="normal" textLength="78.92" lengthAdjust="spacingAndGlyphs" stroke="#000" stroke-width="0.55">Weeks</text>
<text x="427.87" y="552.20" font-size="31.8" font-weight="bold" textLength="16.91" lengthAdjust="spacingAndGlyphs">F</text>
<text x="604.20" y="551.60" font-size="35.2" font-weight="bold" textLength="86.68" lengthAdjust="spacingAndGlyphs">G-CSF</text>
<text transform="translate(436.20,867.46) rotate(-90)" x="0" y="0" font-size="22.3" font-weight="normal" textLength="219.21" lengthAdjust="spacingAndGlyphs" stroke="#000" stroke-width="0.65" stroke-linejoin="round">Concentration pg/mL</text>
<line x1="500.70" y1="611.40" x2="500.70" y2="906.20" stroke="#000" stroke-width="2.6" stroke-linecap="butt"/>
<line x1="492.20" y1="612.80" x2="500.70" y2="612.80" stroke="#000" stroke-width="3.1" stroke-linecap="butt"/>
<text x="451.25" y="620.80" font-size="23.8" font-weight="bold" textLength="37.26" lengthAdjust="spacingAndGlyphs">300</text>
<line x1="492.20" y1="710.60" x2="500.70" y2="710.60" stroke="#000" stroke-width="3.1" stroke-linecap="butt"/>
<text x="451.25" y="718.60" font-size="23.8" font-weight="bold" textLength="37.26" lengthAdjust="spacingAndGlyphs">200</text>
<line x1="492.20" y1="808.40" x2="500.70" y2="808.40" stroke="#000" stroke-width="3.1" stroke-linecap="butt"/>
<text x="451.25" y="816.40" font-size="23.8" font-weight="bold" textLength="37.26" lengthAdjust="spacingAndGlyphs">100</text>
<line x1="492.20" y1="906.20" x2="500.70" y2="906.20" stroke="#000" stroke-width="3.1" stroke-linecap="butt"/>
<text x="476.12" y="914.20" font-size="23.8" font-weight="bold" textLength="12.42" lengthAdjust="spacingAndGlyphs">0</text>
<rect x="512.95" y="901.89" width="48.10" height="4.31" fill="url(#p17)" stroke="#000" stroke-width="2.7" stroke-linejoin="round"/>
<rect x="586.85" y="900.99" width="47.20" height="5.21" fill="url(#p18)" stroke="#000" stroke-width="2.7" stroke-linejoin="round"/>
<rect x="660.25" y="755.99" width="47.60" height="150.21" fill="url(#p19)" stroke="#000" stroke-width="2.7" stroke-linejoin="round"/>
<rect x="732.75" y="779.69" width="47.50" height="126.51" fill="url(#p20)" stroke="#000" stroke-width="2.7" stroke-linejoin="round"/>
<line x1="536.70" y1="899.00" x2="536.70" y2="906.20" stroke="#000" stroke-width="2.5" stroke-linecap="butt"/>
<line x1="524.70" y1="899.00" x2="548.70" y2="899.00" stroke="#000" stroke-width="3.0" stroke-linecap="butt"/>
<line x1="524.70" y1="906.20" x2="548.70" y2="906.20" stroke="#000" stroke-width="3.0" stroke-linecap="butt"/>
<line x1="609.50" y1="898.00" x2="609.50" y2="906.20" stroke="#000" stroke-width="2.5" stroke-linecap="butt"/>
<line x1="597.50" y1="898.00" x2="621.50" y2="898.00" stroke="#000" stroke-width="3.0" stroke-linecap="butt"/>
<line x1="597.50" y1="906.20" x2="621.50" y2="906.20" stroke="#000" stroke-width="3.0" stroke-linecap="butt"/>
<line x1="683.20" y1="699.10" x2="683.20" y2="815.00" stroke="#000" stroke-width="2.5" stroke-linecap="butt"/>
<line x1="671.50" y1="699.10" x2="694.90" y2="699.10" stroke="#000" stroke-width="3.0" stroke-linecap="butt"/>
<line x1="671.50" y1="815.00" x2="694.90" y2="815.00" stroke="#000" stroke-width="3.0" stroke-linecap="butt"/>
<line x1="756.50" y1="765.10" x2="756.50" y2="793.20" stroke="#000" stroke-width="2.5" stroke-linecap="butt"/>
<line x1="744.80" y1="765.10" x2="768.20" y2="765.10" stroke="#000" stroke-width="3.0" stroke-linecap="butt"/>
<line x1="744.80" y1="793.20" x2="768.20" y2="793.20" stroke="#000" stroke-width="3.0" stroke-linecap="butt"/>
<circle cx="683.2" cy="680.5" r="4.5"/>
<circle cx="677.1" cy="727.1" r="4.5"/>
<circle cx="690.4" cy="723.5" r="4.5"/>
<circle cx="683.0" cy="757.0" r="4.5"/>
<circle cx="676.6" cy="827.2" r="4.5"/>
<circle cx="690.0" cy="818.3" r="4.5"/>
<circle cx="743.2" cy="766.6" r="4.5"/>
<circle cx="769.8" cy="761.5" r="4.5"/>
<circle cx="756.5" cy="774.0" r="4.5"/>
<circle cx="743.2" cy="787.3" r="4.5"/>
<circle cx="769.8" cy="788.8" r="4.5"/>
<circle cx="756.5" cy="794.7" r="4.5"/>
<circle cx="530.0" cy="897.0" r="4.5"/>
<circle cx="543.6" cy="896.2" r="4.5"/>
<circle cx="549.2" cy="898.0" r="4.5"/>
<circle cx="523.9" cy="898.8" r="4.5"/>
<circle cx="536.0" cy="902.0" r="4.5"/>
<circle cx="603.5" cy="894.0" r="4.5"/>
<circle cx="617.0" cy="894.0" r="4.5"/>
<circle cx="622.7" cy="896.6" r="4.5"/>
<circle cx="597.4" cy="897.5" r="4.5"/>
<circle cx="610.0" cy="900.0" r="4.5"/>
<line x1="492.20" y1="906.20" x2="794.40" y2="906.20" stroke="#000" stroke-width="2.6" stroke-linecap="round"/>
<circle cx="501.2" cy="907.4" r="1.5"/>
<circle cx="514.5" cy="907.4" r="1.5"/>
<circle cx="527.8" cy="907.4" r="1.5"/>
<circle cx="541.0" cy="907.4" r="1.5"/>
<circle cx="554.3" cy="907.4" r="1.5"/>
<circle cx="567.6" cy="907.4" r="1.5"/>
<circle cx="580.9" cy="907.4" r="1.5"/>
<circle cx="594.2" cy="907.4" r="1.5"/>
<circle cx="607.4" cy="907.4" r="1.5"/>
<circle cx="620.7" cy="907.4" r="1.5"/>
<circle cx="634.0" cy="907.4" r="1.5"/>
<circle cx="647.3" cy="907.4" r="1.5"/>
<circle cx="660.6" cy="907.4" r="1.5"/>
<circle cx="673.8" cy="907.4" r="1.5"/>
<circle cx="687.1" cy="907.4" r="1.5"/>
<circle cx="700.4" cy="907.4" r="1.5"/>
<circle cx="713.7" cy="907.4" r="1.5"/>
<circle cx="727.0" cy="907.4" r="1.5"/>
<circle cx="740.2" cy="907.4" r="1.5"/>
<circle cx="753.5" cy="907.4" r="1.5"/>
<circle cx="766.8" cy="907.4" r="1.5"/>
<circle cx="780.1" cy="907.4" r="1.5"/>
<circle cx="793.4" cy="907.4" r="1.5"/>
<line x1="536.70" y1="906.20" x2="536.70" y2="915.20" stroke="#000" stroke-width="2.6" stroke-linecap="butt"/>
<line x1="609.50" y1="906.20" x2="609.50" y2="915.20" stroke="#000" stroke-width="2.6" stroke-linecap="butt"/>
<line x1="683.10" y1="906.20" x2="683.10" y2="915.20" stroke="#000" stroke-width="2.6" stroke-linecap="butt"/>
<line x1="757.10" y1="906.20" x2="757.10" y2="915.20" stroke="#000" stroke-width="2.6" stroke-linecap="butt"/>
<text x="530.73" y="940.30" font-size="23.3" font-weight="bold" textLength="11.99" lengthAdjust="spacingAndGlyphs">0</text>
<text x="603.27" y="940.30" font-size="23.3" font-weight="bold" textLength="12.25" lengthAdjust="spacingAndGlyphs">6</text>
<text x="677.13" y="940.30" font-size="23.3" font-weight="bold" textLength="11.99" lengthAdjust="spacingAndGlyphs">0</text>
<text x="750.87" y="940.30" font-size="23.3" font-weight="bold" textLength="12.25" lengthAdjust="spacingAndGlyphs">6</text>
<line x1="526.90" y1="608.15" x2="526.90" y2="619.60" stroke="#000" stroke-width="2.5" stroke-linecap="butt"/>
<line x1="602.50" y1="608.15" x2="602.50" y2="619.60" stroke="#000" stroke-width="2.5" stroke-linecap="butt"/>
<line x1="525.65" y1="609.95" x2="603.75" y2="609.95" stroke="#000" stroke-width="3.6" stroke-linecap="butt"/>
<line x1="677.40" y1="607.35" x2="677.40" y2="618.10" stroke="#000" stroke-width="2.5" stroke-linecap="butt"/>
<line x1="751.70" y1="607.35" x2="751.70" y2="618.10" stroke="#000" stroke-width="2.5" stroke-linecap="butt"/>
<line x1="676.15" y1="609.05" x2="752.95" y2="609.05" stroke="#000" stroke-width="3.4" stroke-linecap="butt"/>
<text x="544.08" y="604.60" font-size="30.4" font-weight="normal" textLength="45.09" lengthAdjust="spacingAndGlyphs" font-family="Liberation Sans, Arial, sans-serif" stroke="#000" stroke-width="0.3">n.s.</text>
<text x="689.29" y="604.60" font-size="30.4" font-weight="normal" textLength="44.98" lengthAdjust="spacingAndGlyphs" font-family="Liberation Sans, Arial, sans-serif" stroke="#000" stroke-width="0.3">n.s.</text>
<line x1="539.00" y1="957.90" x2="762.40" y2="957.90" stroke="#000" stroke-width="3.3" stroke-linecap="butt"/>
<text x="595.65" y="987.00" font-size="27.6" font-weight="normal" textLength="78.51" lengthAdjust="spacingAndGlyphs" stroke="#000" stroke-width="0.55">Weeks</text>
<text x="818.05" y="552.20" font-size="31.8" font-weight="bold" textLength="21.57" lengthAdjust="spacingAndGlyphs">G</text>
<text x="1024.56" y="551.70" font-size="35.2" font-weight="bold" textLength="94.92" lengthAdjust="spacingAndGlyphs">Leptin</text>
<text transform="translate(833.10,863.76) rotate(-90)" x="0" y="0" font-size="22.3" font-weight="normal" textLength="218.70" lengthAdjust="spacingAndGlyphs" stroke="#000" stroke-width="0.65" stroke-linejoin="round">Concentration pg/mL</text>
<line x1="925.60" y1="608.20" x2="925.60" y2="903.30" stroke="#000" stroke-width="2.6" stroke-linecap="butt"/>
<line x1="917.10" y1="609.60" x2="925.60" y2="609.60" stroke="#000" stroke-width="3.1" stroke-linecap="butt"/>
<text x="863.08" y="617.60" font-size="23.8" font-weight="bold" textLength="49.67" lengthAdjust="spacingAndGlyphs">6000</text>
<line x1="917.10" y1="707.50" x2="925.60" y2="707.50" stroke="#000" stroke-width="3.1" stroke-linecap="butt"/>
<text x="863.08" y="715.50" font-size="23.8" font-weight="bold" textLength="49.67" lengthAdjust="spacingAndGlyphs">4000</text>
<line x1="917.10" y1="805.40" x2="925.60" y2="805.40" stroke="#000" stroke-width="3.1" stroke-linecap="butt"/>
<text x="863.08" y="813.40" font-size="23.8" font-weight="bold" textLength="49.67" lengthAdjust="spacingAndGlyphs">2000</text>
<line x1="917.10" y1="903.30" x2="925.60" y2="903.30" stroke="#000" stroke-width="3.1" stroke-linecap="butt"/>
<text x="900.32" y="911.30" font-size="23.8" font-weight="bold" textLength="12.42" lengthAdjust="spacingAndGlyphs">0</text>
<rect x="937.35" y="834.39" width="48.20" height="68.91" fill="url(#p21)" stroke="#000" stroke-width="2.7" stroke-linejoin="round"/>
<rect x="1010.65" y="792.89" width="47.90" height="110.41" fill="url(#p22)" stroke="#000" stroke-width="2.7" stroke-linejoin="round"/>
<rect x="1084.05" y="849.09" width="47.80" height="54.21" fill="url(#p23)" stroke="#000" stroke-width="2.7" stroke-linejoin="round"/>
<rect x="1157.05" y="807.69" width="48.20" height="95.61" fill="url(#p24)" stroke="#000" stroke-width="2.7" stroke-linejoin="round"/>
<line x1="961.20" y1="797.60" x2="961.20" y2="870.90" stroke="#000" stroke-width="2.5" stroke-linecap="butt"/>
<line x1="949.40" y1="797.60" x2="973.00" y2="797.60" stroke="#000" stroke-width="3.0" stroke-linecap="butt"/>
<line x1="949.40" y1="870.90" x2="973.00" y2="870.90" stroke="#000" stroke-width="3.0" stroke-linecap="butt"/>
<line x1="1034.60" y1="714.20" x2="1034.60" y2="872.40" stroke="#000" stroke-width="2.5" stroke-linecap="butt"/>
<line x1="1022.80" y1="714.20" x2="1046.40" y2="714.20" stroke="#000" stroke-width="3.0" stroke-linecap="butt"/>
<line x1="1022.80" y1="872.40" x2="1046.40" y2="872.40" stroke="#000" stroke-width="3.0" stroke-linecap="butt"/>
<line x1="1107.50" y1="820.60" x2="1107.50" y2="876.00" stroke="#000" stroke-width="2.5" stroke-linecap="butt"/>
<line x1="1095.70" y1="820.60" x2="1119.30" y2="820.60" stroke="#000" stroke-width="3.0" stroke-linecap="butt"/>
<line x1="1095.70" y1="876.00" x2="1119.30" y2="876.00" stroke="#000" stroke-width="3.0" stroke-linecap="butt"/>
<line x1="1181.30" y1="727.20" x2="1181.30" y2="887.80" stroke="#000" stroke-width="2.5" stroke-linecap="butt"/>
<line x1="1169.50" y1="727.20" x2="1193.10" y2="727.20" stroke="#000" stroke-width="3.0" stroke-linecap="butt"/>
<line x1="1169.50" y1="887.80" x2="1193.10" y2="887.80" stroke="#000" stroke-width="3.0" stroke-linecap="butt"/>
<circle cx="961.2" cy="785.2" r="4.5"/>
<circle cx="947.8" cy="825.7" r="4.5"/>
<circle cx="968.0" cy="820.6" r="4.5"/>
<circle cx="954.3" cy="836.6" r="4.5"/>
<circle cx="968.0" cy="841.9" r="4.5"/>
<circle cx="961.2" cy="896.6" r="4.5"/>
<circle cx="1034.7" cy="657.3" r="4.5"/>
<circle cx="1034.5" cy="761.2" r="4.5"/>
<circle cx="1027.7" cy="812.4" r="4.5"/>
<circle cx="1041.0" cy="808.5" r="4.5"/>
<circle cx="1034.5" cy="828.0" r="4.5"/>
<circle cx="1034.5" cy="893.1" r="4.5"/>
<circle cx="1101.0" cy="814.7" r="4.5"/>
<circle cx="1114.3" cy="827.1" r="4.5"/>
<circle cx="1107.5" cy="844.3" r="4.5"/>
<circle cx="1101.0" cy="853.0" r="4.5"/>
<circle cx="1114.3" cy="861.0" r="4.5"/>
<circle cx="1107.5" cy="895.2" r="4.5"/>
<circle cx="1181.2" cy="686.4" r="4.5"/>
<circle cx="1181.4" cy="728.7" r="4.5"/>
<circle cx="1181.4" cy="839.0" r="4.5"/>
<circle cx="1174.0" cy="846.0" r="4.5"/>
<circle cx="1188.0" cy="853.0" r="4.5"/>
<circle cx="1181.4" cy="889.2" r="4.5"/>
<line x1="917.10" y1="903.30" x2="1218.10" y2="903.30" stroke="#000" stroke-width="2.6" stroke-linecap="round"/>
<circle cx="926.1" cy="904.5" r="1.5"/>
<circle cx="939.4" cy="904.5" r="1.5"/>
<circle cx="952.7" cy="904.5" r="1.5"/>
<circle cx="965.9" cy="904.5" r="1.5"/>
<circle cx="979.2" cy="904.5" r="1.5"/>
<circle cx="992.5" cy="904.5" r="1.5"/>
<circle cx="1005.8" cy="904.5" r="1.5"/>
<circle cx="1019.1" cy="904.5" r="1.5"/>
<circle cx="1032.3" cy="904.5" r="1.5"/>
<circle cx="1045.6" cy="904.5" r="1.5"/>
<circle cx="1058.9" cy="904.5" r="1.5"/>
<circle cx="1072.2" cy="904.5" r="1.5"/>
<circle cx="1085.5" cy="904.5" r="1.5"/>
<circle cx="1098.7" cy="904.5" r="1.5"/>
<circle cx="1112.0" cy="904.5" r="1.5"/>
<circle cx="1125.3" cy="904.5" r="1.5"/>
<circle cx="1138.6" cy="904.5" r="1.5"/>
<circle cx="1151.9" cy="904.5" r="1.5"/>
<circle cx="1165.1" cy="904.5" r="1.5"/>
<circle cx="1178.4" cy="904.5" r="1.5"/>
<circle cx="1191.7" cy="904.5" r="1.5"/>
<circle cx="1205.0" cy="904.5" r="1.5"/>
<line x1="961.20" y1="903.30" x2="961.20" y2="912.30" stroke="#000" stroke-width="2.6" stroke-linecap="butt"/>
<line x1="1034.50" y1="903.30" x2="1034.50" y2="912.30" stroke="#000" stroke-width="2.6" stroke-linecap="butt"/>
<line x1="1107.50" y1="903.30" x2="1107.50" y2="912.30" stroke="#000" stroke-width="2.6" stroke-linecap="butt"/>
<line x1="1181.40" y1="903.30" x2="1181.40" y2="912.30" stroke="#000" stroke-width="2.6" stroke-linecap="butt"/>
<text x="956.24" y="936.50" font-size="24.5" font-weight="bold" textLength="10.36" lengthAdjust="spacingAndGlyphs">0</text>
<text x="1029.12" y="936.50" font-size="24.5" font-weight="bold" textLength="10.58" lengthAdjust="spacingAndGlyphs">6</text>
<text x="1102.34" y="936.50" font-size="24.5" font-weight="bold" textLength="10.36" lengthAdjust="spacingAndGlyphs">0</text>
<text x="1176.02" y="936.50" font-size="24.5" font-weight="bold" textLength="10.58" lengthAdjust="spacingAndGlyphs">6</text>
<line x1="951.10" y1="605.50" x2="951.10" y2="615.60" stroke="#000" stroke-width="2.4" stroke-linecap="butt"/>
<line x1="1026.40" y1="605.50" x2="1026.40" y2="615.60" stroke="#000" stroke-width="2.4" stroke-linecap="butt"/>
<line x1="949.90" y1="606.80" x2="1027.60" y2="606.80" stroke="#000" stroke-width="2.6" stroke-linecap="butt"/>
<line x1="1101.30" y1="604.95" x2="1101.30" y2="615.10" stroke="#000" stroke-width="2.4" stroke-linecap="butt"/>
<line x1="1176.30" y1="604.95" x2="1176.30" y2="615.10" stroke="#000" stroke-width="2.4" stroke-linecap="butt"/>
<line x1="1100.10" y1="606.25" x2="1177.50" y2="606.25" stroke="#000" stroke-width="2.6" stroke-linecap="butt"/>
<text x="969.12" y="600.40" font-size="30.4" font-weight="normal" textLength="44.20" lengthAdjust="spacingAndGlyphs" font-family="Liberation Sans, Arial, sans-serif" stroke="#000" stroke-width="0.3">n.s.</text>
<text x="1113.29" y="600.90" font-size="30.4" font-weight="normal" textLength="44.98" lengthAdjust="spacingAndGlyphs" font-family="Liberation Sans, Arial, sans-serif" stroke="#000" stroke-width="0.3">n.s.</text>
<line x1="963.20" y1="954.80" x2="1186.50" y2="954.80" stroke="#000" stroke-width="3.0" stroke-linecap="butt"/>
<text x="1020.15" y="983.00" font-size="27.6" font-weight="normal" textLength="78.71" lengthAdjust="spacingAndGlyphs" stroke="#000" stroke-width="0.55">Weeks</text>
<text x="1236.25" y="552.20" font-size="31.8" font-weight="bold" textLength="21.23" lengthAdjust="spacingAndGlyphs">H</text>
<text x="1433.59" y="553.90" font-size="35.6" font-weight="bold" textLength="134.75" lengthAdjust="spacingAndGlyphs">PDGF-BB</text>
<text transform="translate(1247.40,870.16) rotate(-90)" x="0" y="0" font-size="22.3" font-weight="normal" textLength="219.41" lengthAdjust="spacingAndGlyphs" stroke="#000" stroke-width="0.65" stroke-linejoin="round">Concentration pg/mL</text>
<line x1="1353.90" y1="614.70" x2="1353.90" y2="909.20" stroke="#000" stroke-width="2.6" stroke-linecap="butt"/>
<line x1="1345.40" y1="616.10" x2="1353.90" y2="616.10" stroke="#000" stroke-width="3.1" stroke-linecap="butt"/>
<text x="1279.78" y="624.10" font-size="23.8" font-weight="bold" textLength="62.09" lengthAdjust="spacingAndGlyphs">12000</text>
<line x1="1345.40" y1="664.95" x2="1353.90" y2="664.95" stroke="#000" stroke-width="3.1" stroke-linecap="butt"/>
<text x="1279.78" y="672.95" font-size="23.8" font-weight="bold" textLength="62.09" lengthAdjust="spacingAndGlyphs">10000</text>
<line x1="1345.40" y1="713.80" x2="1353.90" y2="713.80" stroke="#000" stroke-width="3.1" stroke-linecap="butt"/>
<text x="1292.28" y="721.80" font-size="23.8" font-weight="bold" textLength="49.67" lengthAdjust="spacingAndGlyphs">8000</text>
<line x1="1345.40" y1="762.65" x2="1353.90" y2="762.65" stroke="#000" stroke-width="3.1" stroke-linecap="butt"/>
<text x="1292.28" y="770.65" font-size="23.8" font-weight="bold" textLength="49.67" lengthAdjust="spacingAndGlyphs">6000</text>
<line x1="1345.40" y1="811.50" x2="1353.90" y2="811.50" stroke="#000" stroke-width="3.1" stroke-linecap="butt"/>
<text x="1292.28" y="819.50" font-size="23.8" font-weight="bold" textLength="49.67" lengthAdjust="spacingAndGlyphs">4000</text>
<line x1="1345.40" y1="860.35" x2="1353.90" y2="860.35" stroke="#000" stroke-width="3.1" stroke-linecap="butt"/>
<text x="1292.28" y="868.35" font-size="23.8" font-weight="bold" textLength="49.67" lengthAdjust="spacingAndGlyphs">2000</text>
<line x1="1345.40" y1="909.20" x2="1353.90" y2="909.20" stroke="#000" stroke-width="3.1" stroke-linecap="butt"/>
<text x="1329.52" y="917.20" font-size="23.8" font-weight="bold" textLength="12.42" lengthAdjust="spacingAndGlyphs">0</text>
<rect x="1366.55" y="891.79" width="47.30" height="17.41" fill="url(#p25)" stroke="#000" stroke-width="2.7" stroke-linejoin="round"/>
<rect x="1439.65" y="883.19" width="47.90" height="26.01" fill="url(#p26)" stroke="#000" stroke-width="2.7" stroke-linejoin="round"/>
<rect x="1512.95" y="771.99" width="47.90" height="137.21" fill="url(#p27)" stroke="#000" stroke-width="2.7" stroke-linejoin="round"/>
<rect x="1586.05" y="714.59" width="47.90" height="194.61" fill="url(#p28)" stroke="#000" stroke-width="2.7" stroke-linejoin="round"/>
<line x1="1390.70" y1="883.40" x2="1390.70" y2="898.80" stroke="#000" stroke-width="2.5" stroke-linecap="butt"/>
<line x1="1378.90" y1="883.40" x2="1402.50" y2="883.40" stroke="#000" stroke-width="3.0" stroke-linecap="butt"/>
<line x1="1378.90" y1="898.80" x2="1402.50" y2="898.80" stroke="#000" stroke-width="3.0" stroke-linecap="butt"/>
<line x1="1463.10" y1="872.10" x2="1463.10" y2="893.70" stroke="#000" stroke-width="2.5" stroke-linecap="butt"/>
<line x1="1451.30" y1="872.10" x2="1474.90" y2="872.10" stroke="#000" stroke-width="3.0" stroke-linecap="butt"/>
<line x1="1451.30" y1="893.70" x2="1474.90" y2="893.70" stroke="#000" stroke-width="3.0" stroke-linecap="butt"/>
<line x1="1537.10" y1="725.00" x2="1537.10" y2="818.00" stroke="#000" stroke-width="2.5" stroke-linecap="butt"/>
<line x1="1525.30" y1="725.00" x2="1548.90" y2="725.00" stroke="#000" stroke-width="3.0" stroke-linecap="butt"/>
<line x1="1525.30" y1="818.00" x2="1548.90" y2="818.00" stroke="#000" stroke-width="3.0" stroke-linecap="butt"/>
<line x1="1609.60" y1="665.50" x2="1609.60" y2="763.00" stroke="#000" stroke-width="2.5" stroke-linecap="butt"/>
<line x1="1597.80" y1="665.50" x2="1621.40" y2="665.50" stroke="#000" stroke-width="3.0" stroke-linecap="butt"/>
<line x1="1597.80" y1="763.00" x2="1621.40" y2="763.00" stroke="#000" stroke-width="3.0" stroke-linecap="butt"/>
<circle cx="1370.3" cy="883.4" r="4.5"/>
<circle cx="1404.0" cy="882.5" r="4.5"/>
<circle cx="1377.3" cy="891.7" r="4.5"/>
<circle cx="1390.7" cy="886.9" r="4.5"/>
<circle cx="1404.0" cy="900.5" r="4.5"/>
<circle cx="1390.7" cy="904.1" r="4.5"/>
<circle cx="1463.1" cy="864.7" r="4.5"/>
<circle cx="1456.6" cy="879.5" r="4.5"/>
<circle cx="1470.8" cy="882.5" r="4.5"/>
<circle cx="1450.1" cy="884.9" r="4.5"/>
<circle cx="1477.3" cy="886.9" r="4.5"/>
<circle cx="1463.1" cy="898.2" r="4.5"/>
<circle cx="1537.1" cy="707.9" r="4.5"/>
<circle cx="1537.1" cy="727.2" r="4.5"/>
<circle cx="1530.0" cy="785.0" r="4.5"/>
<circle cx="1544.0" cy="790.0" r="4.5"/>
<circle cx="1537.0" cy="810.0" r="4.5"/>
<circle cx="1537.0" cy="825.0" r="4.5"/>
<circle cx="1609.4" cy="639.3" r="4.5"/>
<circle cx="1616.6" cy="690.4" r="4.5"/>
<circle cx="1603.2" cy="698.2" r="4.5"/>
<circle cx="1605.0" cy="740.0" r="4.5"/>
<circle cx="1615.0" cy="745.0" r="4.5"/>
<circle cx="1609.0" cy="775.0" r="4.5"/>
<line x1="1345.40" y1="909.20" x2="1646.80" y2="909.20" stroke="#000" stroke-width="2.6" stroke-linecap="round"/>
<circle cx="1354.4" cy="910.4" r="1.5"/>
<circle cx="1367.7" cy="910.4" r="1.5"/>
<circle cx="1381.0" cy="910.4" r="1.5"/>
<circle cx="1394.2" cy="910.4" r="1.5"/>
<circle cx="1407.5" cy="910.4" r="1.5"/>
<circle cx="1420.8" cy="910.4" r="1.5"/>
<circle cx="1434.1" cy="910.4" r="1.5"/>
<circle cx="1447.4" cy="910.4" r="1.5"/>
<circle cx="1460.6" cy="910.4" r="1.5"/>
<circle cx="1473.9" cy="910.4" r="1.5"/>
<circle cx="1487.2" cy="910.4" r="1.5"/>
<circle cx="1500.5" cy="910.4" r="1.5"/>
<circle cx="1513.8" cy="910.4" r="1.5"/>
<circle cx="1527.0" cy="910.4" r="1.5"/>
<circle cx="1540.3" cy="910.4" r="1.5"/>
<circle cx="1553.6" cy="910.4" r="1.5"/>
<circle cx="1566.9" cy="910.4" r="1.5"/>
<circle cx="1580.2" cy="910.4" r="1.5"/>
<circle cx="1593.4" cy="910.4" r="1.5"/>
<circle cx="1606.7" cy="910.4" r="1.5"/>
<circle cx="1620.0" cy="910.4" r="1.5"/>
<circle cx="1633.3" cy="910.4" r="1.5"/>
<line x1="1390.70" y1="909.20" x2="1390.70" y2="918.20" stroke="#000" stroke-width="2.6" stroke-linecap="butt"/>
<line x1="1463.10" y1="909.20" x2="1463.10" y2="918.20" stroke="#000" stroke-width="2.6" stroke-linecap="butt"/>
<line x1="1537.10" y1="909.20" x2="1537.10" y2="918.20" stroke="#000" stroke-width="2.6" stroke-linecap="butt"/>
<line x1="1609.80" y1="909.20" x2="1609.80" y2="918.20" stroke="#000" stroke-width="2.6" stroke-linecap="butt"/>
<text x="1384.53" y="942.50" font-size="24.5" font-weight="bold" textLength="11.99" lengthAdjust="spacingAndGlyphs">0</text>
<text x="1456.87" y="942.50" font-size="24.5" font-weight="bold" textLength="12.25" lengthAdjust="spacingAndGlyphs">6</text>
<text x="1531.13" y="942.50" font-size="24.5" font-weight="bold" textLength="11.99" lengthAdjust="spacingAndGlyphs">0</text>
<text x="1603.57" y="942.50" font-size="24.5" font-weight="bold" textLength="12.25" lengthAdjust="spacingAndGlyphs">6</text>
<line x1="1381.10" y1="612.10" x2="1381.10" y2="621.90" stroke="#000" stroke-width="2.4" stroke-linecap="butt"/>
<line x1="1455.60" y1="612.10" x2="1455.60" y2="621.90" stroke="#000" stroke-width="2.4" stroke-linecap="butt"/>
<line x1="1379.90" y1="613.40" x2="1456.80" y2="613.40" stroke="#000" stroke-width="2.6" stroke-linecap="butt"/>
<line x1="1530.30" y1="610.70" x2="1530.30" y2="620.60" stroke="#000" stroke-width="2.4" stroke-linecap="butt"/>
<line x1="1604.60" y1="610.70" x2="1604.60" y2="620.60" stroke="#000" stroke-width="2.4" stroke-linecap="butt"/>
<line x1="1529.10" y1="612.00" x2="1605.80" y2="612.00" stroke="#000" stroke-width="2.6" stroke-linecap="butt"/>
<text x="1398.41" y="606.90" font-size="30.4" font-weight="normal" textLength="44.42" lengthAdjust="spacingAndGlyphs" font-family="Liberation Sans, Arial, sans-serif" stroke="#000" stroke-width="0.3">n.s.</text>
<text x="1542.48" y="607.70" font-size="30.4" font-weight="normal" textLength="45.09" lengthAdjust="spacingAndGlyphs" font-family="Liberation Sans, Arial, sans-serif" stroke="#000" stroke-width="0.3">n.s.</text>
<line x1="1393.00" y1="959.60" x2="1616.80" y2="959.60" stroke="#000" stroke-width="3.0" stroke-linecap="butt"/>
<text x="1448.95" y="989.60" font-size="27.6" font-weight="normal" textLength="78.61" lengthAdjust="spacingAndGlyphs" stroke="#000" stroke-width="0.55">Weeks</text>
<rect x="1678.35" y="614.85" width="34.10" height="34.10" fill="url(#p30)" stroke="#000" stroke-width="2.7" stroke-linejoin="round"/>
<text x="1719.90" y="641.50" font-size="27" font-weight="bold" textLength="49.86" lengthAdjust="spacingAndGlyphs">HAS</text>
<rect x="1678.35" y="663.05" width="34.10" height="33.30" fill="url(#p32)" stroke="#000" stroke-width="2.7" stroke-linejoin="round"/>
<text x="1719.89" y="688.00" font-size="27" font-weight="bold" textLength="47.61" lengthAdjust="spacingAndGlyphs">PRP</text>
</svg>
</body></html>
